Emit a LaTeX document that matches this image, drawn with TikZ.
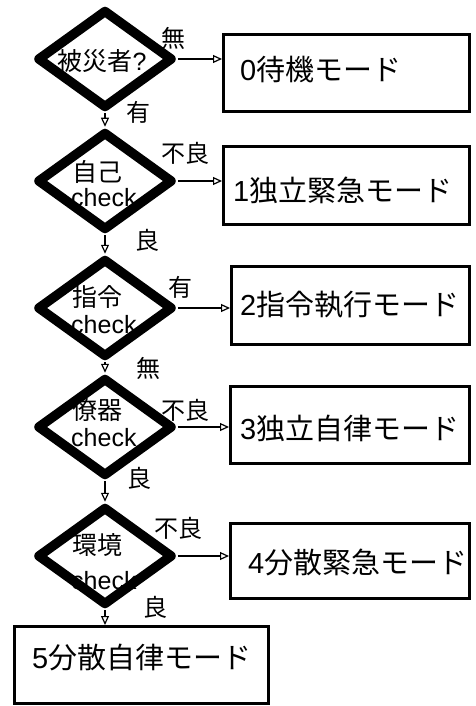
\documentclass[tikz,border=0pt]{standalone}
\usepackage{fontspec}
\setmainfont{Liberation Sans}
\newfontfamily\cjk{Noto Sans CJK JP}
\usetikzlibrary{shapes.geometric,arrows.meta}
\begin{document}
\begin{tikzpicture}[x=1pt,y=-1pt,
  dec/.style={diamond,draw,line width=9.5pt,line join=round,minimum width=136pt,minimum height=99pt,inner sep=0pt},
  modebox/.style={draw,line width=3pt,inner sep=0pt},
  dtext/.style={font=\fontsize{25}{28}\selectfont,inner sep=0pt},
  lab/.style={font=\fontsize{24}{26}\selectfont\cjk,inner sep=0pt},
  mtext/.style={font=\fontsize{29}{32}\selectfont,inner sep=0pt,anchor=west},
  conn/.style={line width=1.5pt,-{Triangle[open,length=9pt,width=8pt,line width=1.2pt]}}
]
\useasboundingbox (0,0) rectangle (476,706);
% diamonds
\node[dec] (d1) at (105,59) {};
\node[dec] (d2) at (105,181) {};
\node[dec] (d3) at (105,308) {};
\node[dec] (d4) at (105,427) {};
\node[dec] (d5) at (105,556) {};
% boxes
\node[modebox,minimum width=246pt,minimum height=77pt] (b0) at (346.5,73) {};
\node[modebox,minimum width=246pt,minimum height=78pt] (b1) at (346.5,185.5) {};
\node[modebox,minimum width=238pt,minimum height=78pt] (b2) at (350.5,305.5) {};
\node[modebox,minimum width=239pt,minimum height=77pt] (b3) at (350,425) {};
\node[modebox,minimum width=239pt,minimum height=75pt] (b4) at (350,561) {};
\node[modebox,minimum width=254pt,minimum height=77pt] (b5) at (141.5,665) {};
% diamond texts
\node[dtext] (t1) at (102,61) {{\cjk 被災者}?};
\node[dtext,anchor=west] (t2a) at (72,172) {\cjk 自己};
\node[dtext,anchor=west] (t2b) at (71,198) {check};
\node[dtext,anchor=west] (t3a) at (72,297) {\cjk 指令};
\node[dtext,anchor=west] (t3b) at (71,325) {check};
\node[dtext,anchor=west] (t4a) at (72,410) {\cjk 僚器};
\node[dtext,anchor=west] (t4b) at (71,438) {check};
\node[dtext,anchor=west] (t5a) at (72,545) {\cjk 環境};
\node[dtext,anchor=west] (t5b) at (71,581) {check};
% mode texts
\node[mtext] (m0) at (240,70) {0{\cjk 待機モード}};
\node[mtext] (m1) at (233,190) {1{\cjk 独立緊急モード}};
\node[mtext] (m2) at (240,305) {2{\cjk 指令執行モード}};
\node[mtext] (m3) at (240,428) {3{\cjk 独立自律モード}};
\node[mtext] (m4) at (248,563) {4{\cjk 分散緊急モード}};
\node[mtext] (m5) at (32,658) {5{\cjk 分散自律モード}};
% labels
\node[lab] (l1a) at (173,38) {無};
\node[lab] (l1b) at (138,112) {有};
\node[lab] (l2a) at (185,153) {不良};
\node[lab] (l2b) at (147,240) {良};
\node[lab] (l3a) at (180,287) {有};
\node[lab] (l3b) at (148,368) {無};
\node[lab] (l4a) at (185,410) {不良};
\node[lab] (l4b) at (139,478) {良};
\node[lab] (l5a) at (178,528) {不良};
\node[lab] (l5b) at (155,607) {良};
% connectors
\draw[conn] (d1.east) -- (d1.east -| b0.west);
\draw[conn] (d2.east) -- (d2.east -| b1.west);
\draw[conn] (d3.east) -- (d3.east -| b2.west);
\draw[conn] (d4.east) -- (d4.east -| b3.west);
\draw[conn] (d5.east) -- (d5.east -| b4.west);
\draw[conn] (d1.south) -- (d2.north);
\draw[conn] (d2.south) -- (d3.north);
\draw[conn] (d3.south) -- (d4.north);
\draw[conn] (d4.south) -- (d5.north);
\draw[conn] (d5.south) -- (d5.south |- b5.north);
\end{tikzpicture}
\end{document}
